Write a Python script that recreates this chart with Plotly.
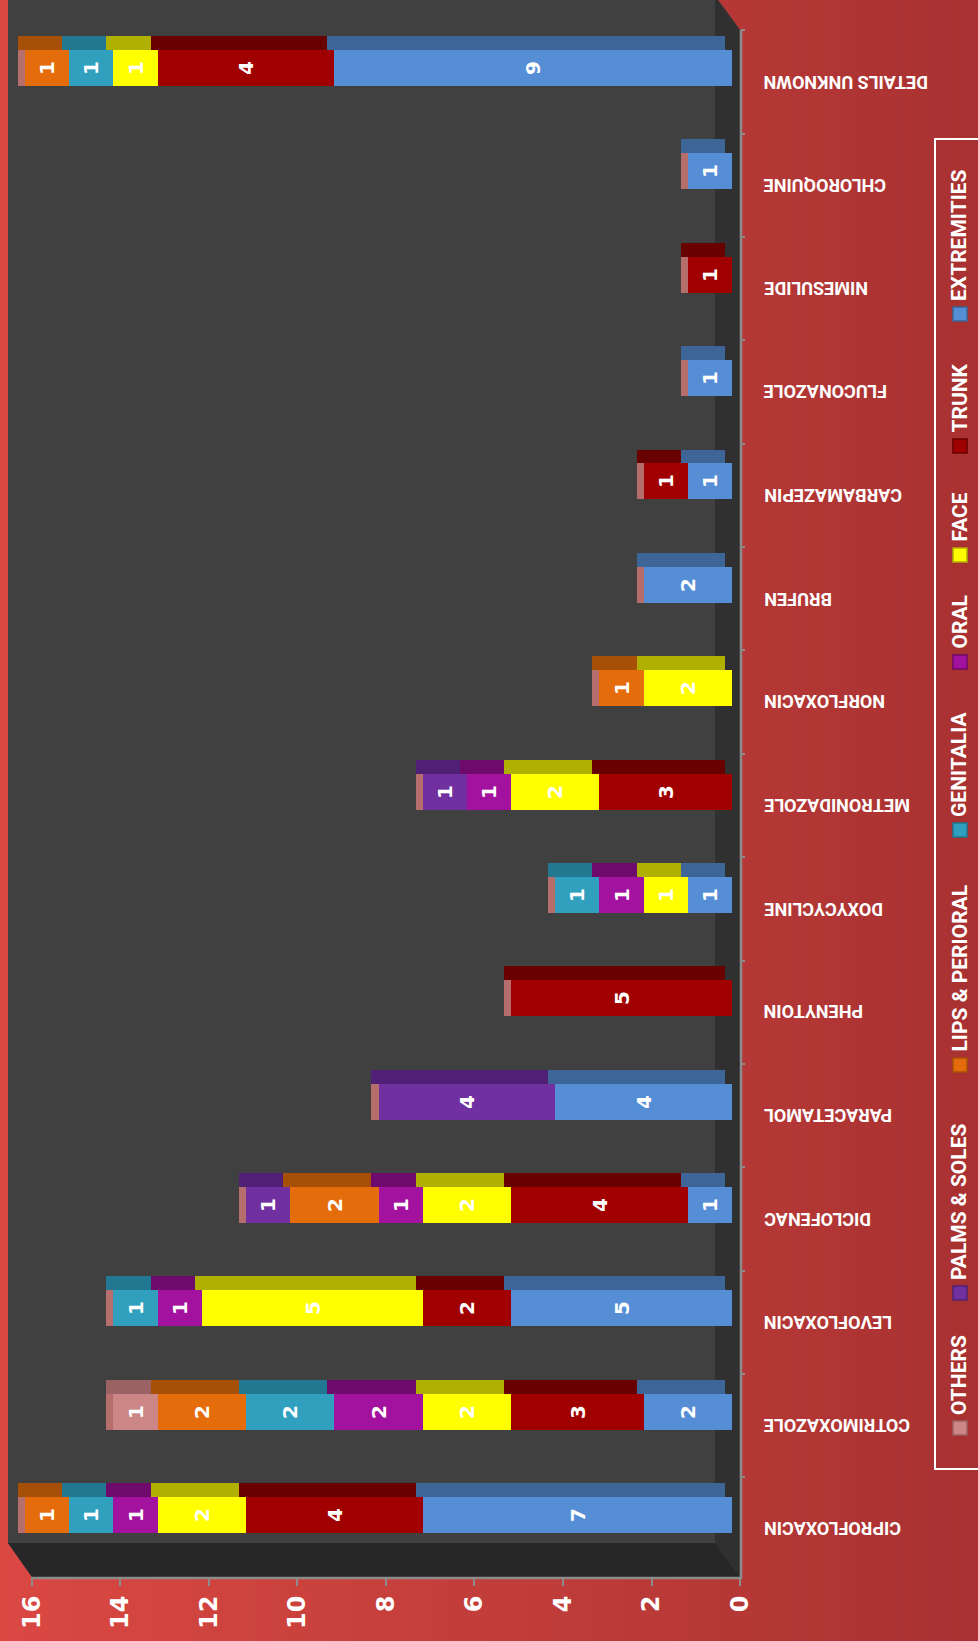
import plotly.graph_objects as go

# ---------------- data ----------------
drugs = ["CIPROFLOXACIN", "COTRIMOXAZOLE", "LEVOFLOXACIN", "DICLOFENAC", "PARACETAMOL",
         "PHENYTOIN", "DOXYCYCLINE", "METRONIDAZOLE", "NORFLOXACIN", "BRUFEN",
         "CARBAMAZEPIN", "FLUCONAZOLE", "NIMESULIDE", "CHLOROQUINE", "DETAILS UNKNOWN"]

series_names = ["EXTREMITIES", "TRUNK", "FACE", "ORAL", "GENITALIA",
                "LIPS & PERIORAL", "PALMS & SOLES", "OTHERS"]

extremities   = [7, 2, 5, 1, 4, 0, 1, 0, 0, 2, 1, 1, 0, 1, 9]
trunk         = [4, 3, 2, 4, 0, 5, 0, 3, 0, 0, 1, 0, 1, 0, 4]
face          = [2, 2, 5, 2, 0, 0, 1, 2, 2, 0, 0, 0, 0, 0, 1]
oral          = [1, 2, 1, 1, 0, 0, 1, 1, 0, 0, 0, 0, 0, 0, 0]
genitalia     = [1, 2, 1, 0, 0, 0, 1, 0, 0, 0, 0, 0, 0, 0, 1]
lips_perioral = [1, 2, 0, 2, 0, 0, 0, 0, 1, 0, 0, 0, 0, 0, 1]
palms_soles   = [0, 0, 0, 1, 4, 0, 0, 1, 0, 0, 0, 0, 0, 0, 0]
others        = [0, 1, 0, 0, 0, 0, 0, 0, 0, 0, 0, 0, 0, 0, 0]

value_ticks = [0, 2, 4, 6, 8, 10, 12, 14, 16]

series_values = [extremities, trunk, face, oral, genitalia, lips_perioral, palms_soles, others]

front_colors = ["#558ED5", "#A00000", "#FFFF00", "#A3129E", "#31A0BF", "#E46C0A", "#7030A0", "#CC8686"]
top_colors   = ["#3D6598", "#680000", "#B0B000", "#6E0A6B", "#217890", "#A64F07", "#4F2075", "#9A6262"]
cap_color = "#B56E6C"

# ---------------- layout geometry (pixels) ----------------
W, H = 978, 1641
L, R, T, B = 8, 740, 0, 1577


def px(x):
    return (x - L) / (R - L)


def py(y):
    return 1 - (y - T) / (B - T)


def path(points):
    return "M " + " L ".join(f"{px(a):.5f},{py(b):.5f}" for a, b in points) + " Z"


fig = go.Figure()

depth_shift = 0.16
cum = [0] * len(drugs)
bases = []
for vals in series_values:
    bases.append(list(cum))
    cum = [c + v for c, v in zip(cum, vals)]
totals = cum

# 3D top faces (drawn first), shifted slightly left (depth)
for name, vals, base, col in zip(series_names, series_values, bases, top_colors):
    fig.add_trace(go.Bar(
        y=drugs, x=[v if v else None for v in vals],
        base=[b + depth_shift for b in base],
        orientation="h", width=0.135, offset=0.309,
        marker=dict(color=col, line=dict(width=0)),
        showlegend=False, hoverinfo="skip", xaxis="x", yaxis="y"))

# end caps of each stack
fig.add_trace(go.Bar(
    y=drugs, x=[depth_shift if t else None for t in totals], base=totals,
    orientation="h", width=0.348, offset=-0.039,
    marker=dict(color=cap_color, line=dict(width=0)),
    showlegend=False, hoverinfo="skip", xaxis="x", yaxis="y"))

for name, vals, base, col in zip(series_names, series_values, bases, front_colors):
    fig.add_trace(go.Bar(
        y=drugs, x=[v if v else None for v in vals], base=base,
        orientation="h", width=0.348, offset=-0.039,
        marker=dict(color=col, line=dict(width=0)),
        text=[str(v) if v else "" for v in vals],
        textposition="inside", insidetextanchor="middle", textangle=-90,
        constraintext="none",
        textfont=dict(family="DejaVu Sans", size=20, color="white", weight="bold"),
        name=name, showlegend=False, hoverinfo="skip", xaxis="x", yaxis="y"))

# empty trace to host the tick axis
fig.add_trace(go.Scatter(x=[], y=[], xaxis="x2", yaxis="y", showlegend=False, hoverinfo="skip"))

shapes = []
# background gradient
stops = [(0, (218, 72, 66)), (740, (181, 56, 54)), (978, (168, 49, 49))]


def grad(x):
    for (x0, c0), (x1, c1) in zip(stops[:-1], stops[1:]):
        if x0 <= x <= x1:
            t = (x - x0) / (x1 - x0)
            return tuple(int(round(a + (b - a) * t)) for a, b in zip(c0, c1))
    return stops[-1][1]


step = 8
for xs in range(0, W, step):
    c = grad(xs + step / 2)
    shapes.append(dict(type="rect", xref="paper", yref="paper",
                       x0=px(xs), x1=px(xs + step + 1), y0=py(H + 2), y1=py(-2),
                       fillcolor=f"rgb{c}", line=dict(width=0), layer="below"))

# plot area with 3D corner cuts
shapes.append(dict(type="path", xref="paper", yref="paper",
                   path=path([(8, 0), (718, 0), (740, 30), (740, 1577), (32, 1577), (8, 1543)]),
                   fillcolor="#404040", line=dict(width=0), layer="below"))
# floor strip (right) and side strip (bottom)
shapes.append(dict(type="path", xref="paper", yref="paper",
                   path=path([(715, 0), (718, 0), (740, 30), (740, 1577), (715, 1543)]),
                   fillcolor="#303030", line=dict(width=0), layer="below"))
shapes.append(dict(type="path", xref="paper", yref="paper",
                   path=path([(8, 1543), (715, 1543), (740, 1577), (32, 1577)]),
                   fillcolor="#272727", line=dict(width=0), layer="below"))
# axis lines
shapes.append(dict(type="line", xref="paper", yref="paper",
                   x0=px(741), x1=px(741), y0=py(30), y1=py(1579),
                   line=dict(color="#8c8c8c", width=2.5), layer="above"))
shapes.append(dict(type="line", xref="paper", yref="paper",
                   x0=px(31), x1=px(742), y0=py(1578), y1=py(1578),
                   line=dict(color="#8c8c8c", width=2.5), layer="above"))

# legend
legend_marker_y = [314, 446, 555, 662, 830, 1065, 1293, 1428]
shapes.append(dict(type="rect", xref="paper", yref="paper",
                   x0=px(935), x1=px(995), y0=py(1469), y1=py(139),
                   line=dict(color="white", width=2), fillcolor="rgba(0,0,0,0)", layer="above"))
annotations = []
for name, ym, fc, tc in zip(series_names, legend_marker_y, front_colors, top_colors):
    shapes.append(dict(type="rect", xref="paper", yref="paper",
                       x0=px(953), x1=px(967), y0=py(ym + 7), y1=py(ym - 7),
                       fillcolor=fc, line=dict(color=tc, width=1.5), layer="above"))
    annotations.append(dict(text=name, xref="paper", yref="paper",
                            x=px(959), y=py(ym - 11), xanchor="center", yanchor="bottom",
                            textangle=-90, showarrow=False,
                            font=dict(family="Roboto", size=21, color="white", weight="bold")))

# category labels (upside down)
for d in drugs:
    annotations.append(dict(text=d, xref="paper", yref="y", x=px(762), y=d,
                            xanchor="left", yanchor="middle", textangle=180, showarrow=False,
                            font=dict(family="Roboto", size=18, color="white", weight="bold")))

fig.update_layout(
    width=W, height=H,
    margin=dict(l=L, r=W - R, t=T, b=H - B, pad=0),
    paper_bgcolor="#c04040", plot_bgcolor="rgba(0,0,0,0)",
    barmode="overlay", bargap=0,
    showlegend=False,
    shapes=shapes, annotations=annotations,
    xaxis=dict(range=[16.385, -0.181], visible=False, showgrid=False, zeroline=False),
    xaxis2=dict(range=[16.542, 0], overlaying="x", anchor="y", side="bottom",
                tickmode="array", tickvals=value_ticks, ticktext=[str(v) for v in value_ticks],
                tickangle=-90, ticks="outside", ticklen=8, tickwidth=2, tickcolor="#8c8c8c",
                tickfont=dict(family="DejaVu Sans", size=24, color="white", weight="bold"),
                showgrid=False, zeroline=False, showline=False),
    yaxis=dict(type="category", categoryorder="array", categoryarray=drugs,
               range=[-0.464, 14.793], side="right", showticklabels=False,
               ticks="outside", ticklen=4, tickwidth=1.5, tickcolor="#8c8c8c",
               tickson="boundaries", showgrid=False, zeroline=False, showline=False),
)

fig.write_html("out.html")
